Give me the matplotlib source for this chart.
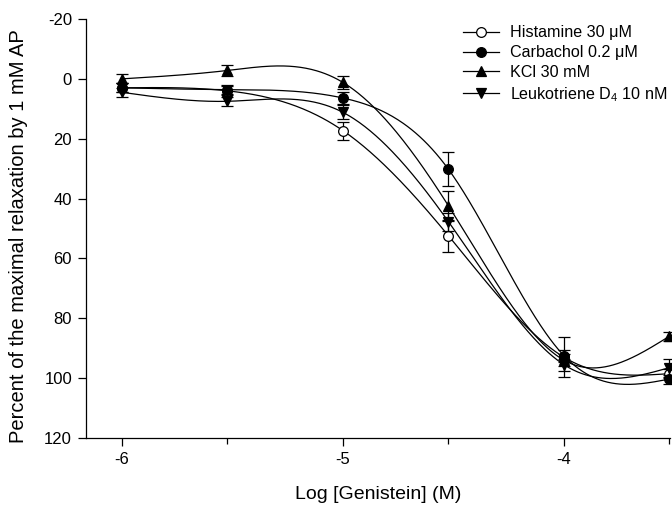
import numpy as np
import matplotlib
matplotlib.use("Agg")
import matplotlib.pyplot as plt

plt.rcParams['font.family'] = ['Liberation Sans', 'DejaVu Sans']
plt.rcParams['mathtext.fontset'] = 'custom'
plt.rcParams['mathtext.rm'] = 'Liberation Sans'
plt.rcParams['mathtext.it'] = 'Liberation Sans:italic'
plt.rcParams['axes.unicode_minus'] = False

# ---- data ----
conc_uM = [1, 3, 10, 30, 100, 300]
log_conc = np.log10(np.array(conc_uM) * 1e-6)

labels = ["Histamine 30 \u03bcM", "Carbachol 0.2 \u03bcM", "KCl 30 mM", "Leukotriene D$_4$ 10 nM"]
hist = [3.0, 4.0, 17.3, 52.4, 93.0, 98.5]
hist_err = [1.5, 1.5, 3.0, 5.3, 6.7, 1.5]
carb = [3.0, 3.6, 6.4, 30.2, 92.5, 100.3]
carb_err = [1.5, 1.5, 2.0, 5.6, 2.0, 1.5]
kcl = [0.0, -2.8, 1.2, 42.4, 94.0, 86.0]
kcl_err = [1.5, 1.9, 2.3, 5.0, 2.0, 1.5]
ltd4 = [4.5, 7.5, 11.2, 47.7, 95.5, 96.5]
ltd4_err = [1.5, 1.5, 2.3, 3.0, 2.0, 3.0]

xticks = [-6, -5, -4]
xtick_labels = ["-6", "-5", "-4"]
yticks = [-20, 0, 20, 40, 60, 80, 100, 120]


def natural_spline(x, y, xs):
    x = np.asarray(x, float)
    y = np.asarray(y, float)
    n = len(x)
    h = np.diff(x)
    A = np.zeros((n, n))
    b = np.zeros(n)
    A[0, 0] = 1
    A[-1, -1] = 1
    for i in range(1, n - 1):
        A[i, i - 1] = h[i - 1]
        A[i, i] = 2 * (h[i - 1] + h[i])
        A[i, i + 1] = h[i]
        b[i] = 6 * ((y[i + 1] - y[i]) / h[i] - (y[i] - y[i - 1]) / h[i - 1])
    M = np.linalg.solve(A, b)
    out = np.empty_like(xs)
    for k, xv in enumerate(xs):
        i = min(max(np.searchsorted(x, xv) - 1, 0), n - 2)
        t1 = x[i + 1] - xv
        t0 = xv - x[i]
        out[k] = (M[i] * t1 ** 3 + M[i + 1] * t0 ** 3) / (6 * h[i]) \
            + (y[i] / h[i] - M[i] * h[i] / 6) * t1 \
            + (y[i + 1] / h[i] - M[i + 1] * h[i] / 6) * t0
    return out


fig = plt.figure(figsize=(6.72, 5.08), dpi=100)
ax = fig.add_axes([86 / 672, 70 / 508, 584 / 672, 419 / 508])

series = [
    (hist, hist_err, dict(marker='o', mfc='white', ms=7)),
    (carb, carb_err, dict(marker='o', mfc='black', ms=7)),
    (kcl, kcl_err, dict(marker='^', mfc='black', ms=7.5)),
    (ltd4, ltd4_err, dict(marker='v', mfc='black', ms=7.5)),
]

xs = np.linspace(log_conc[0], log_conc[-1], 400)
handles = []
for (vals, err, st), lab in zip(series, labels):
    ys = natural_spline(log_conc, vals, xs)
    ax.plot(xs, ys, color='black', lw=0.9, clip_on=False)
    ax.errorbar(log_conc, vals, yerr=err, fmt='none', ecolor='black',
                elinewidth=0.9, capsize=4.5, capthick=0.9, clip_on=False)
    ax.plot(log_conc, vals, linestyle='none', color='black', mec='black',
            mew=0.9, clip_on=False, **st)
    h, = ax.plot([], [], color='black', lw=0.9, mec='black', mew=0.9, **st)
    handles.append(h)

ax.set_xlim(-6.163, -3.52)
ax.set_ylim(120, -20)
ax.set_xticks(xticks)
ax.set_xticklabels(xtick_labels)
ax.set_xticks([-5.523, -4.523, -3.523], minor=True)
ax.set_yticks(yticks)
ax.tick_params(axis='both', which='major', direction='out', length=6, width=0.9,
               labelsize=12, pad=4, color='black')
ax.tick_params(axis='x', which='major', pad=4)
ax.tick_params(axis='x', which='minor', direction='out', length=4, width=0.9)
for s in ['top', 'right']:
    ax.spines[s].set_visible(False)
for s in ['left', 'bottom']:
    ax.spines[s].set_linewidth(0.9)

ax.set_xlabel("Log [Genistein] (M)", fontsize=14, labelpad=14)
ax.set_ylabel("Percent of the maximal relaxation by 1 mM AP", fontsize=14.5)
ax.yaxis.set_label_coords(-0.1, 0.482)

leg = ax.legend(handles, labels, loc='upper right', bbox_to_anchor=(1.012, 1.008),
                frameon=False, fontsize=11.6, handlelength=2.25, handletextpad=0.68,
                labelspacing=0.3, borderaxespad=0.2)

fig.savefig("out.png", dpi=100)
